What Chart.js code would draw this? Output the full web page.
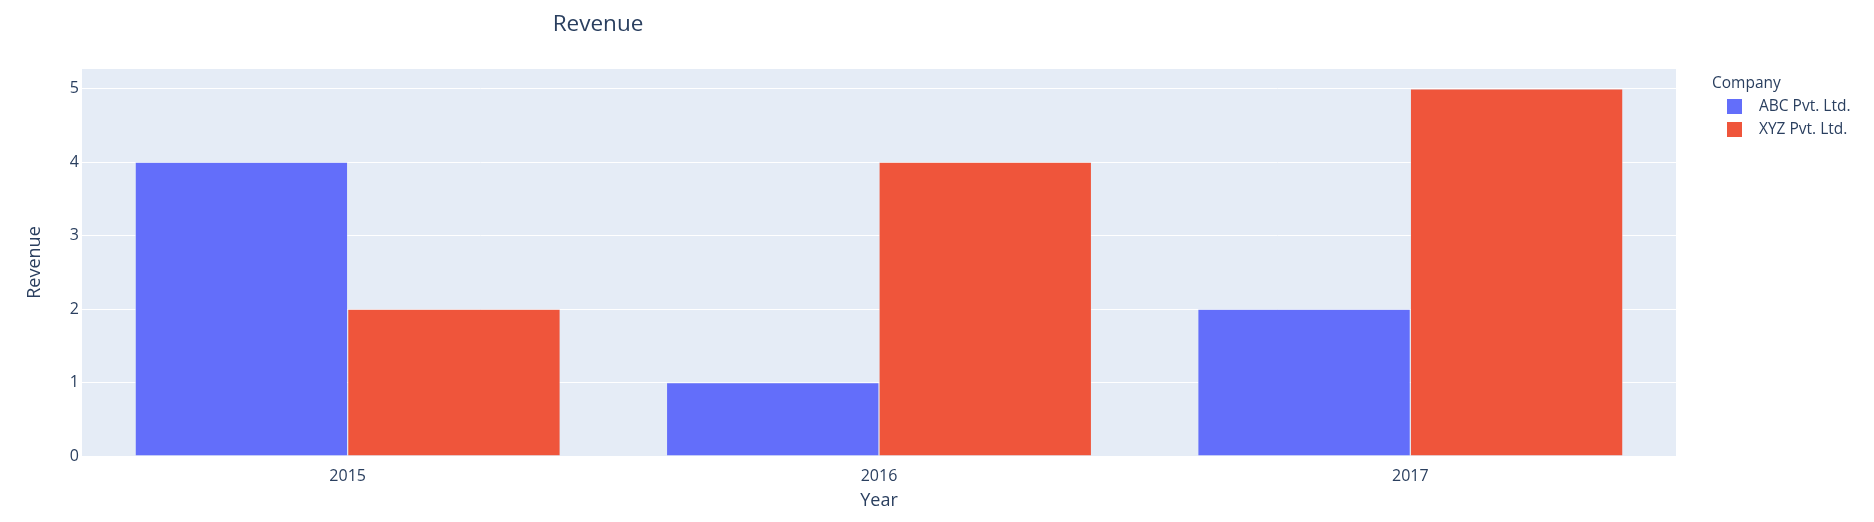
<!DOCTYPE html>
<html>
<head>
<meta charset="utf-8">
<script src="https://cdn.jsdelivr.net/npm/chart.js@4.4.0/dist/chart.umd.min.js"></script>
<style>
  body { margin: 0; background: #fff; }
  canvas { display: block; }
</style>
</head>
<body>
<canvas id="myChart" width="1874" height="522"></canvas>
<script>
const years = ["2015", "2016", "2017"];
const companies = ["ABC Pvt. Ltd.", "XYZ Pvt. Ltd."];
const abcRevenue = [4, 1, 2];
const xyzRevenue = [2, 4, 5];
const chartTitle = "Revenue";
const legendTitle = "Company";

const fontFam = '"Open Sans", verdana, arial, sans-serif';
const textColor = "#2a3f5f";

// plot background + title + legend, plotly style
const plotlyLook = {
	id: "plotlyLook",
	beforeDraw(chart) {
		const { ctx, chartArea } = chart;
		ctx.save();
		ctx.fillStyle = "#E5ECF6";
		ctx.fillRect(chartArea.left, chartArea.top, chartArea.right - chartArea.left, chartArea.bottom - chartArea.top);
		ctx.restore();
	},
	afterDraw(chart) {
		const ctx = chart.ctx;
		ctx.save();
		ctx.fillStyle = textColor;
		ctx.textBaseline = "middle";
		ctx.font = "22.5px " + fontFam;
		ctx.textAlign = "center";
		ctx.fillText(chartTitle, 598, 25);

		ctx.textAlign = "left";
		ctx.font = "15.5px " + fontFam;
		ctx.fillText(legendTitle, 1712, 84);
		chart.data.datasets.forEach((ds, i) => {
			const y = 106 + i * 23;
			ctx.fillStyle = ds.backgroundColor;
			ctx.fillRect(1727, y - 7, 15, 15);
			ctx.fillStyle = textColor;
			ctx.fillText(ds.label, 1759, y + 1);
		});
		ctx.restore();
	},
};

const ctx1 = document.getElementById("myChart");

let grafico = new Chart(ctx1, {
	type: "bar",
	data: {
		labels: years,
		datasets: [
			{
				label: companies[0],
				data: abcRevenue,
				backgroundColor: "#636EFA",
				borderColor: "rgba(229, 236, 246, 0.8)",
				borderWidth: 0.6,
			},
			{
				label: companies[1],
				data: xyzRevenue,
				backgroundColor: "#EF553B",
				borderColor: "rgba(229, 236, 246, 0.8)",
				borderWidth: 0.6,
			},
		],
	},
	options: {
		responsive: false,
		animation: false,
		categoryPercentage: 0.8,
		barPercentage: 1,
		layout: {
			padding: { top: 69, right: 198, bottom: 0, left: 0 },
		},
		plugins: {
			legend: { display: false },
			tooltip: { enabled: false },
		},
		scales: {
			x: {
				afterFit: (s) => { s.height = 66; },
				grid: { display: false },
				border: { display: false },
				ticks: {
					color: textColor,
					padding: 3,
					font: { family: fontFam, size: 16 },
				},
				title: {
					display: true,
					text: "Year",
					color: textColor,
					font: { family: fontFam, size: 18 },
					padding: { top: 10, bottom: 10 },
				},
			},
			y: {
				min: 0,
				max: 5.27,
				afterFit: (s) => { s.width = 82; },
				grid: { color: "#ffffff", lineWidth: 1, drawTicks: false },
				border: { display: false },
				ticks: {
					stepSize: 1,
					includeBounds: false,
					color: textColor,
					padding: 3,
					font: { family: fontFam, size: 16 },
				},
				title: {
					display: true,
					text: "Revenue",
					color: textColor,
					font: { family: fontFam, size: 18 },
					padding: { top: 24, bottom: 24 },
				},
			},
		},
	},
	plugins: [plotlyLook],
});
</script>
</body>
</html>
